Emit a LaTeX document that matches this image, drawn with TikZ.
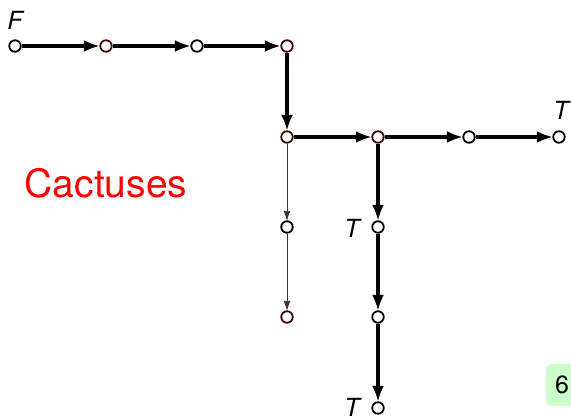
\documentclass[tikz,border=0pt]{standalone}
\usepackage{fontspec}
\setmainfont{TeX Gyre Heros}
\usetikzlibrary{arrows.meta}
\definecolor{pagegreen}{RGB}{204,255,204}
\definecolor{rimred}{RGB}{60,8,8}
\begin{document}
\begin{tikzpicture}[x=1pt,y=-1pt,
  vtx/.style={circle,draw=black,fill=white,line width=1.8pt,inner sep=0pt,minimum size=11.5pt},
  vtxr/.style={vtx,draw=rimred},
  heavy/.style={line width=3.4pt,-{Latex[length=16pt,width=12pt]},shorten >=-0.5pt},
  light/.style={line width=0.9pt,draw=black!80,-{Latex[length=10pt,width=7pt]},shorten >=-0.5pt},
  lbl/.style={font=\fontsize{25}{25}\selectfont\itshape,inner sep=0pt}]
\useasboundingbox (0,0) rectangle (571,419);
% page number tab
\fill[pagegreen,rounded corners=6pt] (546,364) rectangle (580,406);
\node[font=\fontsize{25}{25}\selectfont] (pg) at (562,385) {6};
% vertices
\node[vtx]  (a1) at (15,46) {};
\node[vtxr] (a2) at (106,46) {};
\node[vtx]  (a3) at (197,46) {};
\node[vtxr] (a4) at (287,46) {};
\node[vtxr] (b1) at (287,137) {};
\node[vtxr] (b2) at (378,137) {};
\node[vtx]  (b3) at (469,137) {};
\node[vtx]  (b4) at (559,137) {};
\node[vtx]  (c2) at (287,227) {};
\node[vtxr] (c3) at (287,317) {};
\node[vtx]  (d2) at (378,227) {};
\node[vtx]  (d3) at (378,317) {};
\node[vtx]  (d4) at (378,408) {};
% edges
\draw[heavy] (a1) -- (a2);
\draw[heavy] (a2) -- (a3);
\draw[heavy] (a3) -- (a4);
\draw[heavy] (a4) -- (b1);
\draw[heavy] (b1) -- (b2);
\draw[heavy] (b2) -- (b3);
\draw[heavy] (b3) -- (b4);
\draw[heavy] (b2) -- (d2);
\draw[heavy] (d2) -- (d3);
\draw[heavy] (d3) -- (d4);
\draw[light] (b1) -- (c2);
\draw[light] (c2) -- (c3);
% labels
\node[lbl] (lf) at (15,20) {F};
\node[lbl] (lt1) at (561,110) {T};
\node[lbl] (lt2) at (352,228) {T};
\node[lbl] (lt3) at (352,407) {T};
\node[text=red,font=\fontsize{39}{39}\selectfont,inner sep=0pt] (title) at (106,183) {Cactuses};
\end{tikzpicture}
\end{document}
